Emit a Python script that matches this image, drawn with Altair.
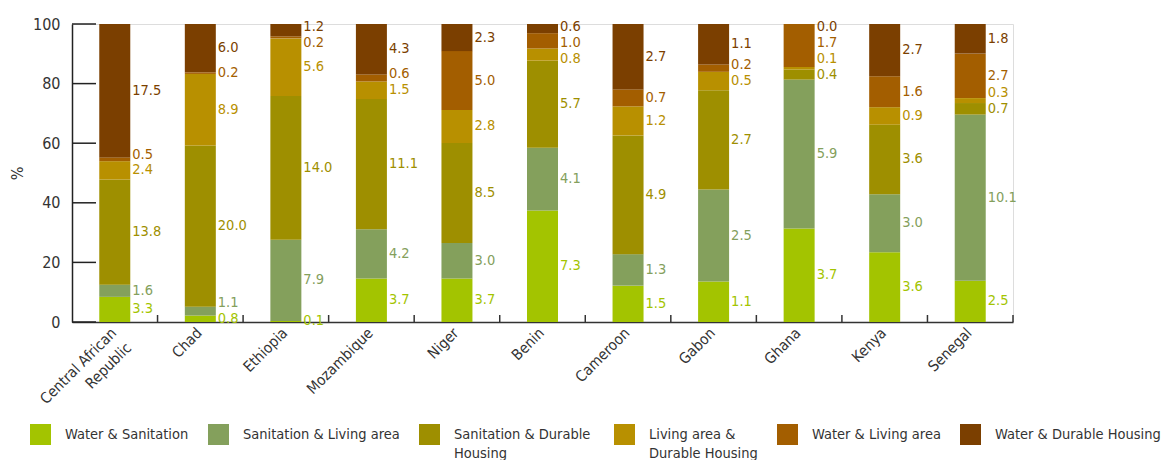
import altair as alt
import pandas as pd

countries = ["Central African Republic", "Chad", "Ethiopia", "Mozambique", "Niger",
             "Benin", "Cameroon", "Gabon", "Ghana", "Kenya", "Senegal"]
series = ["Water & Sanitation", "Sanitation & Living area", "Sanitation & Durable Housing",
          "Living area & Durable Housing", "Water & Living area", "Water & Durable Housing"]
colors = ["#a3c400", "#84a05c", "#9e8f00", "#b89000", "#a35e00", "#7b3f00"]

water_sanitation = [3.3, 0.8, 0.1, 3.7, 3.7, 7.3, 1.5, 1.1, 3.7, 3.6, 2.5]
sanitation_living = [1.6, 1.1, 7.9, 4.2, 3.0, 4.1, 1.3, 2.5, 5.9, 3.0, 10.1]
sanitation_durable = [13.8, 20.0, 14.0, 11.1, 8.5, 5.7, 4.9, 2.7, 0.4, 3.6, 0.7]
living_durable = [2.4, 8.9, 5.6, 1.5, 2.8, 0.8, 1.2, 0.5, 0.1, 0.9, 0.3]
water_living = [0.5, 0.2, 0.2, 0.6, 5.0, 1.0, 0.7, 0.2, 1.7, 1.6, 2.7]
water_durable = [17.5, 6.0, 1.2, 4.3, 2.3, 0.6, 2.7, 1.1, 0.0, 2.7, 1.8]

y_ticks = [0, 20, 40, 60, 80, 100]

all_series = [water_sanitation, sanitation_living, sanitation_durable,
              living_durable, water_living, water_durable]

GAP = 5.3
CAP = 99.0

rows = []
for ci, c in enumerate(countries):
    vals = [s[ci] for s in all_series]
    total = sum(vals)
    cum = 0.0
    mids = []
    pcts = []
    for v in vals:
        p = v / total * 100
        pcts.append(p)
        mids.append(cum + p / 2)
        cum += p
    pos = list(mids)
    for i in range(1, len(pos)):
        pos[i] = max(pos[i], pos[i - 1] + GAP)
    pos[-1] = min(pos[-1], CAP)
    for i in range(len(pos) - 2, -1, -1):
        pos[i] = min(pos[i], pos[i + 1] - GAP)
    for k, (s, v) in enumerate(zip(series, vals)):
        rows.append({"country": c, "series": s, "k": k, "value": v,
                     "pct": pcts[k], "label_y": pos[k]})

df = pd.DataFrame(rows)
ticks_df = pd.DataFrame({"t": y_ticks})
cat_df = pd.DataFrame({"country": countries})

FONT = "DejaVu Sans Condensed, DejaVu Sans, sans-serif"
W, H = 941, 298

xscale = alt.Scale(domain=countries, paddingInner=0, paddingOuter=0)
yscale = alt.Scale(domain=[0, 100])
cscale = alt.Scale(domain=series, range=colors)

label_expr = ("datum.value == 'Central African Republic' ? ['Central African', 'Republic'] : datum.value")
legend_expr = ("datum.label == 'Sanitation & Durable Housing' ? ['Sanitation &  Durable', 'Housing'] : "
               "datum.label == 'Living area & Durable Housing' ? ['Living area &', 'Durable Housing'] : "
               "[datum.label, '']")

bars = alt.Chart(df).mark_bar(width=31).encode(
    x=alt.X("country:N", scale=xscale, sort=countries,
            axis=alt.Axis(title=None, labelAngle=-45, labelAlign="right", labelBaseline="middle",
                          labelFontSize=15, labelColor="#333", labelFont=FONT, labelPadding=8,
                          labelOffset=-1, ticks=False, domainColor="#333", domainWidth=1.5,
                          labelExpr=label_expr, labelLineHeight=21)),
    y=alt.Y("pct:Q", stack="zero", scale=yscale,
            axis=alt.Axis(title="%", values=y_ticks, ticks=False, grid=False, labelFontSize=16,
                          labelColor="#333", labelFont=FONT, labelPadding=12, domainColor="#222",
                          domainWidth=1.5, titleFont=FONT, titleFontSize=16, titleFontWeight="normal",
                          titleColor="#333", titlePadding=7)),
    color=alt.Color("series:N", scale=cscale, sort=series,
                    legend=alt.Legend(title=None, orient="none", legendX=-42, legendY=400,
                                      direction="horizontal", columns=6, columnPadding=19,
                                      symbolType="square", symbolSize=441, symbolStrokeWidth=0,
                                      symbolOpacity=1, labelFontSize=14.5, labelColor="#333",
                                      labelFont=FONT, labelOffset=14, labelLimit=400,
                                      labelExpr=legend_expr)),
    order=alt.Order("k:Q"),
)

labels = alt.Chart(df).mark_text(align="left", baseline="middle", dx=17.5, fontSize=14.5, font=FONT).encode(
    x=alt.X("country:N", scale=xscale, sort=countries),
    y=alt.Y("label_y:Q", scale=yscale),
    text=alt.Text("value:Q", format=".1f"),
    color=alt.Color("series:N", scale=cscale, sort=series, legend=None),
)

yticks = alt.Chart(ticks_df).mark_rule(color="#222", strokeWidth=1.5).encode(
    y=alt.Y("t:Q", scale=yscale),
    x=alt.value(0), x2=alt.value(24),
)

xticks = alt.Chart(cat_df).mark_rule(color="#333", strokeWidth=1.5).encode(
    x=alt.X("country:N", scale=xscale, sort=countries, bandPosition=1),
    y=alt.value(H - 7), y2=alt.value(H),
)

chart = alt.layer(bars, labels, yticks, xticks).properties(
    width=W, height=H,
    autosize=alt.AutoSizeParams(type="none"),
    padding={"left": 64, "top": 16, "right": 150, "bottom": 138},
).configure_view(stroke=None).configure(font=FONT, style={"guide-label": {"lineHeight": 19}})

chart.save("out.html", embed_options={"renderer": "svg", "actions": False})
